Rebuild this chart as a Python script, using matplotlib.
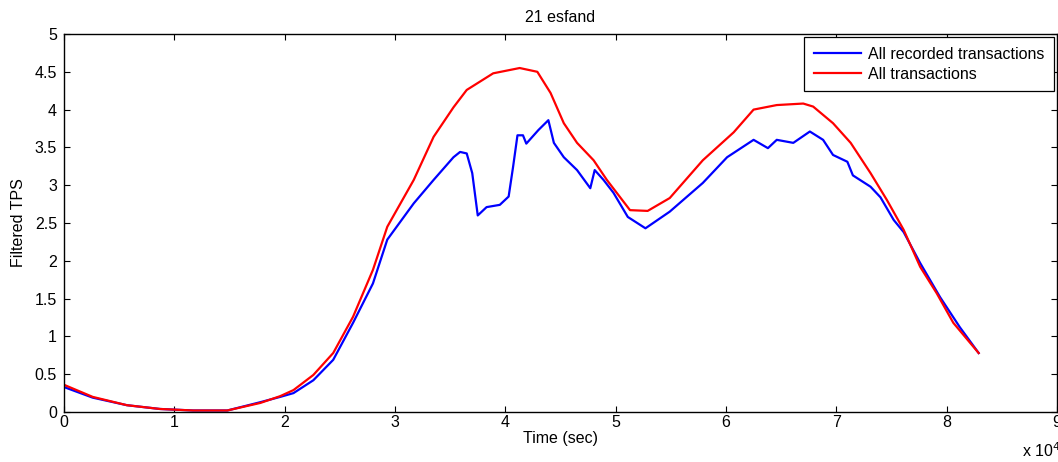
import matplotlib
matplotlib.use("Agg")
import matplotlib.pyplot as plt

# time in units of 1e4 seconds, filtered TPS values
recorded_t = [0.0, 0.26, 0.57, 0.87, 1.17, 1.48, 1.78, 1.96, 2.08, 2.26, 2.44, 2.62,
              2.80, 2.93, 3.17, 3.35, 3.53, 3.59, 3.65, 3.70, 3.75, 3.83, 3.95, 4.03,
              4.07, 4.11, 4.16, 4.19, 4.30, 4.39, 4.44, 4.53, 4.65, 4.77, 4.81, 4.89,
              4.98, 5.11, 5.27, 5.49, 5.79, 6.01, 6.25, 6.38, 6.46, 6.61, 6.76, 6.88,
              6.97, 7.10, 7.15, 7.31, 7.40, 7.52, 7.61, 7.76, 7.94, 8.12, 8.29]
recorded_tps = [0.33, 0.19, 0.09, 0.04, 0.02, 0.02, 0.13, 0.20, 0.25, 0.42, 0.69, 1.18,
                1.70, 2.28, 2.76, 3.07, 3.37, 3.44, 3.42, 3.16, 2.60, 2.71, 2.74, 2.85,
                3.24, 3.66, 3.66, 3.55, 3.73, 3.86, 3.56, 3.37, 3.20, 2.96, 3.20, 3.07,
                2.90, 2.58, 2.43, 2.65, 3.03, 3.37, 3.60, 3.49, 3.60, 3.56, 3.71, 3.60,
                3.40, 3.31, 3.13, 2.98, 2.84, 2.54, 2.38, 1.97, 1.52, 1.12, 0.78]

all_t = [0.0, 0.26, 0.57, 0.87, 1.17, 1.48, 1.78, 1.96, 2.08, 2.26, 2.44, 2.62,
         2.80, 2.93, 3.17, 3.35, 3.53, 3.65, 3.89, 4.13, 4.29, 4.41, 4.53, 4.65,
         4.80, 4.92, 5.13, 5.29, 5.49, 5.79, 6.07, 6.25, 6.46, 6.70, 6.79, 6.97,
         7.13, 7.31, 7.46, 7.61, 7.76, 7.91, 8.06, 8.29]
all_tps = [0.36, 0.20, 0.09, 0.04, 0.02, 0.02, 0.12, 0.21, 0.29, 0.49, 0.78, 1.26,
           1.88, 2.45, 3.07, 3.64, 4.03, 4.26, 4.48, 4.55, 4.50, 4.22, 3.82, 3.56,
           3.33, 3.07, 2.67, 2.66, 2.83, 3.33, 3.70, 4.00, 4.06, 4.08, 4.04, 3.82,
           3.56, 3.16, 2.80, 2.41, 1.92, 1.57, 1.18, 0.78]

x_ticks = list(range(10))
y_ticks = [0, 0.5, 1, 1.5, 2, 2.5, 3, 3.5, 4, 4.5, 5]
y_labels = ["0", "0.5", "1", "1.5", "2", "2.5", "3", "3.5", "4", "4.5", "5"]

plt.rcParams["font.family"] = ["Liberation Sans", "DejaVu Sans"]
fs = 11.5

fig = plt.figure(figsize=(10.58, 4.62), dpi=100)
ax = fig.add_axes([64 / 1058, 50 / 462, 993 / 1058, 378 / 462])

scale = 1e4
ax.plot([t * scale for t in recorded_t], recorded_tps, color="#0000ff", lw=1.6,
        label="All recorded transactions")
ax.plot([t * scale for t in all_t], all_tps, color="#ff0000", lw=1.6,
        label="All transactions")

ax.set_xlim(0, 9e4)
ax.set_ylim(0, 5)
ax.set_xticks([i * scale for i in x_ticks])
ax.set_xticklabels([str(i) for i in x_ticks])
ax.set_yticks(y_ticks)
ax.set_yticklabels(y_labels)
ax.tick_params(direction="in", top=True, right=True, length=4, width=0.8,
               labelsize=fs)
ax.tick_params(axis="x", pad=2)
ax.tick_params(axis="y", pad=5)
for s in ax.spines.values():
    s.set_linewidth(1.0)

ax.set_title("21 esfand", fontsize=fs, pad=9)
ax.set_xlabel("Time (sec)", fontsize=fs, labelpad=1)
ax.set_ylabel("Filtered TPS", fontsize=fs, labelpad=6)
fig.text(1022 / 1058, 1 - 460 / 462, "x 10$^{4}$", fontsize=fs, va="bottom", ha="left")

leg = ax.legend(loc="upper right", fontsize=fs, fancybox=False, framealpha=1,
                edgecolor="black", borderaxespad=0.2, handlelength=3.0,
                handletextpad=0.4, borderpad=0.6, labelspacing=0.3)
leg.get_frame().set_linewidth(0.9)

fig.savefig("out.png", dpi=100)
